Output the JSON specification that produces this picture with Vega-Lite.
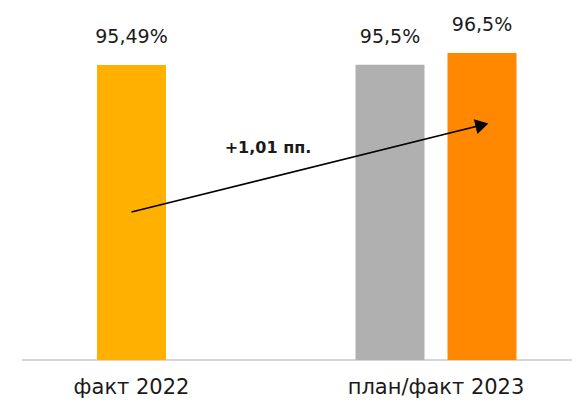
{
  "$schema": "https://vega.github.io/schema/vega-lite/v6.json",
  "autosize": {"type": "none"},
  "padding": {"left": 22, "top": 0, "right": 0, "bottom": 41},
  "width": 550,
  "height": 360,
  "background": "white",
  "config": {"view": {"stroke": null}, "font": "DejaVu Sans"},
  "data": {
    "values": [
      {"kind": "bar", "group": "факт 2022", "series": "2022", "value": 95.49, "label": "95,49%"},
      {"kind": "bar", "group": "план/факт 2023", "series": "план", "value": 95.5, "label": "95,5%"},
      {"kind": "bar", "group": "план/факт 2023", "series": "факт", "value": 96.5, "label": "96,5%"},
      {"kind": "arrow", "group": "факт 2022", "series": "2022", "value": 83.12},
      {"kind": "arrow", "group": "план/факт 2023", "series": "факт", "value": 90.44},
      {"kind": "head", "group": "план/факт 2023", "series": "факт", "value": 90.44},
      {"kind": "note", "group": "факт 2022", "series": "2022", "value": 88.5, "label": "+1,01 пп."}
    ]
  },
  "encoding": {
    "x": {
      "field": "group", "type": "nominal",
      "scale": {"domain": ["факт 2022", "план/факт 2023"], "paddingInner": 0.5468, "paddingOuter": 0.1765, "align": 0.3767},
      "axis": {"title": null, "domain": false, "ticks": false, "labelAngle": 0, "labelFontSize": 21, "labelColor": "#1a1a1a", "labelPadding": 16, "labelFont": "DejaVu Sans"}
    },
    "y": {"field": "value", "type": "quantitative", "scale": {"domain": [70.66, 100.96], "zero": false, "nice": false}, "axis": null}
  },
  "layer": [
    {
      "transform": [{"filter": "datum.kind === 'note'"}],
      "mark": {"type": "rule", "color": "#c8c8c8", "strokeWidth": 1.5},
      "encoding": {"x": null, "y": {"datum": 70.66, "type": "quantitative"}}
    },
    {
      "transform": [{"filter": "datum.kind === 'bar'"}],
      "mark": {"type": "bar", "width": 69},
      "encoding": {
        "xOffset": {"field": "series", "type": "nominal", "scale": {"domain": ["план", "2022", "факт"], "paddingInner": 0, "paddingOuter": 0}},
        "y2": {"datum": 70.66},
        "color": {"field": "series", "type": "nominal", "scale": {"domain": ["2022", "план", "факт"], "range": ["#FFB000", "#B0B0B0", "#FF8800"]}, "legend": null}
      }
    },
    {
      "transform": [{"filter": "datum.kind === 'bar'"}],
      "mark": {"type": "text", "fontSize": 19, "color": "#1a1a1a", "baseline": "middle", "dy": -28},
      "encoding": {
        "xOffset": {"field": "series", "type": "nominal"},
        "text": {"field": "label"}
      }
    },
    {
      "transform": [{"filter": "datum.kind === 'arrow'"}],
      "mark": {"type": "line", "color": "black", "strokeWidth": 1.6},
      "encoding": {
        "xOffset": {"field": "series", "type": "nominal"}
      }
    },
    {
      "transform": [{"filter": "datum.kind === 'head'"}],
      "mark": {"type": "point", "shape": "triangle-right", "filled": true, "color": "black", "opacity": 1, "size": 230, "angle": 346, "dx": 1},
      "encoding": {
        "xOffset": {"field": "series", "type": "nominal"}
      }
    },
    {
      "transform": [{"filter": "datum.kind === 'note'"}],
      "mark": {"type": "text", "fontSize": 16, "fontWeight": "bold", "color": "#1a1a1a", "baseline": "middle", "dx": 136.5},
      "encoding": {
        "text": {"field": "label"}
      }
    }
  ]
}
